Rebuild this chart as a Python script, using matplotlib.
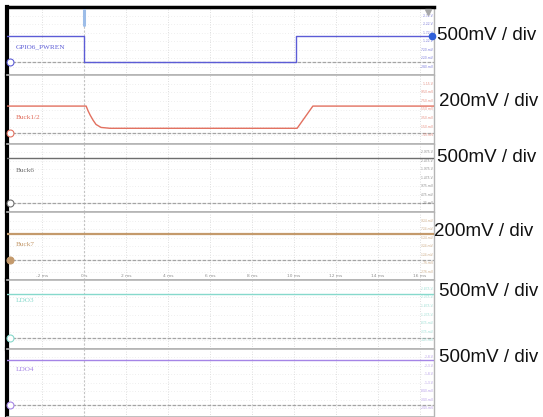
import numpy as np
import matplotlib
matplotlib.use("Agg")
import matplotlib.pyplot as plt

# time axis (ms), trigger at 0
t_start, t_end = -3.67, 16.67
time_ticks = [-2, 0, 2, 4, 6, 8, 10, 12, 14, 16]
time_labels = ["-2 ms", "0 s", "2 ms", "4 ms", "6 ms", "8 ms", "10 ms", "12 ms", "14 ms", "16 ms"]

# channel names, volts per div, channel colours
channels = ["GPIO6_PWREN", "Buck1/2", "Buck6", "Buck7", "LDO3", "LDO4"]
volts_per_div = [0.5, 0.2, 0.5, 0.2, 0.5, 0.5]
colors = ["#5c5cd6", "#e2705f", "#6e6e6e", "#c49a6c", "#86d9cc", "#a585e6"]
scale_text = ["500mV / div", "200mV / div", "500mV / div", "200mV / div", "500mV / div", "500mV / div"]
# ground reference position, in divisions from the bottom of each trace
ground_div = [1.56, 1.25, 1.05, 2.38, 1.25, 1.40]

# captured waveforms (ms, V)
gpio_t = [-3.67, 0.0, 0.0, 10.1, 10.1, 16.67]
gpio_v = [1.5, 1.5, 0.0, 0.0, 1.5, 1.5]

buck12_t = [-3.67, 0.1, 0.19, 0.29, 0.43, 0.57, 0.81, 1.24, 10.15, 10.9, 16.67]
buck12_v = [0.63, 0.63, 0.52, 0.42, 0.30, 0.20, 0.13, 0.11, 0.11, 0.63, 0.63]

buck6_t = [-3.67, 16.67]
buck6_v = [2.63, 2.63]

buck7_t = [-3.67, 16.67]
buck7_v = [0.60, 0.60]

ldo3_t = [-3.67, 16.67]
ldo3_v = [2.57, 2.57]

ldo4_t = [-3.67, 16.67]
ldo4_v = [2.66, 2.66]

traces = [(gpio_t, gpio_v), (buck12_t, buck12_v), (buck6_t, buck6_v),
          (buck7_t, buck7_v), (ldo3_t, ldo3_v), (ldo4_t, ldo4_v)]

# where the channel name sits inside each trace (axes fraction)
label_y = [0.41, 0.39, 0.61, 0.53, 0.71, 0.69]
text_y = [35, 101, 157, 232, 292, 358]
text_x = [437, 439, 437, 434, 439, 439]

W, H = 543, 417
n_div = 8
fig = plt.figure(figsize=(W / 100, H / 100), dpi=100)
fig.patch.set_facecolor("white")

left_px, right_px, top_px, bot_px = 7, 434, 7, 417
panel_h = (bot_px - top_px) / len(channels)

def volt_text(v):
    if abs(v) < 1e-9:
        return "0 V"
    if abs(v) >= 1:
        return f"{v:g} V"
    return f"{v*1000:.0f} mV"

axes = []
for i, name in enumerate(channels):
    b = top_px + (i + 1) * panel_h
    ax = fig.add_axes([left_px / W, 1 - b / H, (right_px - left_px) / W, panel_h / H])
    axes.append(ax)
    s = volts_per_div[i]
    g = ground_div[i]
    ax.set_xlim(t_start, t_end)
    ax.set_ylim(-g * s, (n_div - g) * s)
    ax.set_xticks([])
    ax.set_yticks([])

    # dotted graticule
    for tt in np.arange(-2, 17, 2):
        if tt != 0:
            ax.axvline(tt, color="#d4d4d4", lw=0.6, ls=(0, (1, 2)), zorder=0)
    for k in range(1, n_div):
        ax.axhline((k - g) * s, color="#e0e0e0", lw=0.5, ls=(0, (1, 3)), zorder=0)

    # trigger position
    ax.axvline(0, color="#c4c4c4", lw=0.8, ls=(0, (2, 1.5)), zorder=1)

    # ground reference
    ax.axhline(0, color="#a4a4a4", lw=0.9, ls=(0, (3, 1)), zorder=1)
    mk_face = colors[i] if i == 3 else "white"
    ax.plot([0.007], [0], marker="o", ms=5, mfc=mk_face, mec=colors[i], mew=0.8,
            transform=ax.get_yaxis_transform(), clip_on=False, zorder=4)

    # waveform
    tx, vy = traces[i]
    lw = 1.0 if i != 3 else 1.6
    ax.plot(tx, vy, color=colors[i], lw=lw, zorder=3)

    ax.text(0.02, label_y[i], name, transform=ax.transAxes, fontsize=5.2,
            color=colors[i], family="Liberation Serif", va="center", ha="left")

    # small scale readout at the right edge
    for k in range(1, n_div):
        ax.text(0.997, k / n_div, volt_text((k - g) * s), transform=ax.transAxes,
                fontsize=2.2, color=colors[i], ha="right", va="center", alpha=0.8)

    for side in ["top", "bottom", "right"]:
        ax.spines[side].set_color("#b4b4b4")
        ax.spines[side].set_linewidth(1.2)
    ax.spines["right"].set_linewidth(1.0)
    ax.spines["left"].set_color("black")
    ax.spines["left"].set_linewidth(3)

    fig.text(text_x[i] / W, 1 - text_y[i] / H, scale_text[i], fontsize=13.5,
             family="Liberation Sans", color="#111111", va="center", ha="left")

# top trace frame and markers
top = axes[0]
top.spines["top"].set_color("black")
top.spines["top"].set_linewidth(2.5)
top.plot([0, 0], [0.74, 0.96], color="#9dbde8", lw=2.2, solid_capstyle="round",
         transform=top.get_xaxis_transform(), zorder=5)
top.plot([0.985], [0.93], marker="v", ms=5, color="#a8a8a8", transform=top.transAxes,
         clip_on=False, zorder=5)
top.plot([0.996], [1.5], marker="o", ms=4.5, color="#2f5fd8", zorder=5,
         transform=top.get_yaxis_transform(), clip_on=False)

# time readout inside the Buck7 trace
b7 = axes[3]
for tt, lab in zip(time_ticks, time_labels):
    b7.text(tt, 0.06, lab, transform=b7.get_xaxis_transform(), fontsize=3.2,
            color="#909090", ha="center", va="center")

fig.savefig("out.png", dpi=100, facecolor="white")
